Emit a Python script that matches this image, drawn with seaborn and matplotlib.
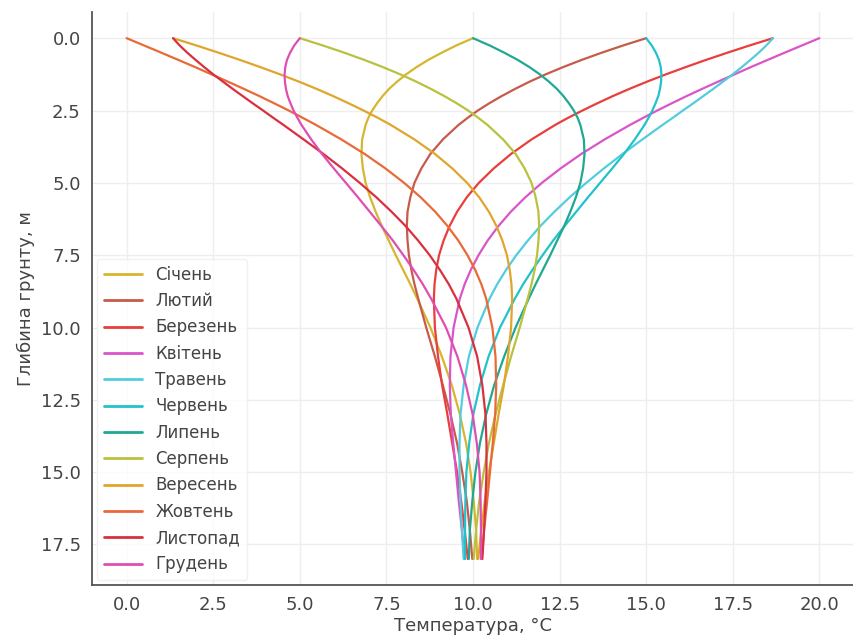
import matplotlib
matplotlib.use("Agg")
import matplotlib.pyplot as plt
import seaborn as sns
import pandas as pd

# Soil depth levels, m
depths = [0, 0.25, 0.5, 0.75, 1, 1.25, 1.5, 1.75, 2, 2.25, 2.5, 2.75, 3,
          3.5, 4, 4.5, 5, 5.5, 6, 6.5, 7, 7.5, 8, 8.5, 9,
          10, 11, 12, 13, 14, 15, 16, 17, 18]

months = ["Січень", "Лютий", "Березень", "Квітень", "Травень", "Червень",
          "Липень", "Серпень", "Вересень", "Жовтень", "Листопад", "Грудень"]

# Temperature profiles, °C (one value per depth level)
t_jan = [10.00, 9.52, 9.10, 8.71, 8.37, 8.07, 7.81, 7.58, 7.39, 7.23, 7.09, 6.98, 6.90,
         6.80, 6.78, 6.82, 6.90, 7.03, 7.19, 7.37, 7.57, 7.77, 7.98, 8.19, 8.39,
         8.77, 9.10, 9.39, 9.62, 9.80, 9.93, 10.02, 10.09, 10.12]
t_feb = [15.00, 14.34, 13.72, 13.14, 12.60, 12.10, 11.64, 11.22, 10.83, 10.47, 10.14, 9.85, 9.58,
         9.13, 8.77, 8.51, 8.31, 8.19, 8.11, 8.09, 8.11, 8.15, 8.22, 8.31, 8.42,
         8.65, 8.90, 9.13, 9.35, 9.54, 9.69, 9.82, 9.91, 9.98]
t_mar = [18.66, 17.99, 17.35, 16.73, 16.14, 15.57, 15.03, 14.52, 14.04, 13.59, 13.16, 12.75, 12.37,
         11.69, 11.10, 10.60, 10.17, 9.82, 9.54, 9.32, 9.15, 9.02, 8.94, 8.89, 8.87,
         8.90, 8.99, 9.11, 9.26, 9.40, 9.54, 9.66, 9.76, 9.85]
t_apr = [20.00, 19.50, 19.00, 18.51, 18.02, 17.55, 17.08, 16.62, 16.17, 15.74, 15.32, 14.92, 14.53,
         13.80, 13.13, 12.53, 11.99, 11.51, 11.09, 10.73, 10.42, 10.16, 9.94, 9.76, 9.62,
         9.44, 9.35, 9.33, 9.36, 9.43, 9.51, 9.59, 9.68, 9.76]
t_may = [18.66, 18.47, 18.25, 18.01, 17.76, 17.50, 17.22, 16.94, 16.65, 16.36, 16.06, 15.77, 15.47,
         14.89, 14.32, 13.78, 13.27, 12.79, 12.35, 11.94, 11.58, 11.25, 10.96, 10.70, 10.48,
         10.13, 9.88, 9.73, 9.64, 9.61, 9.61, 9.64, 9.68, 9.73]
t_jun = [15.00, 15.16, 15.28, 15.37, 15.42, 15.44, 15.43, 15.40, 15.35, 15.27, 15.18, 15.07, 14.95,
         14.67, 14.36, 14.02, 13.67, 13.32, 12.98, 12.64, 12.31, 12.01, 11.72, 11.45, 11.21,
         10.78, 10.45, 10.20, 10.01, 9.89, 9.81, 9.78, 9.77, 9.77]
t_jul = [10.00, 10.48, 10.90, 11.29, 11.63, 11.93, 12.19, 12.42, 12.61, 12.77, 12.91, 13.02, 13.10,
         13.20, 13.22, 13.18, 13.10, 12.97, 12.81, 12.63, 12.43, 12.23, 12.02, 11.81, 11.61,
         11.23, 10.90, 10.61, 10.38, 10.20, 10.07, 9.98, 9.91, 9.88]
t_aug = [5.00, 5.66, 6.28, 6.86, 7.40, 7.90, 8.36, 8.78, 9.17, 9.53, 9.86, 10.15, 10.42,
         10.87, 11.23, 11.49, 11.69, 11.81, 11.89, 11.91, 11.89, 11.85, 11.78, 11.69, 11.58,
         11.35, 11.10, 10.87, 10.65, 10.46, 10.31, 10.18, 10.09, 10.02]
t_sep = [1.34, 2.01, 2.65, 3.27, 3.86, 4.43, 4.97, 5.48, 5.96, 6.41, 6.84, 7.25, 7.63,
         8.31, 8.90, 9.40, 9.83, 10.18, 10.46, 10.68, 10.85, 10.98, 11.06, 11.11, 11.13,
         11.10, 11.01, 10.89, 10.74, 10.60, 10.46, 10.34, 10.24, 10.15]
t_oct = [0.00, 0.50, 1.00, 1.49, 1.98, 2.45, 2.92, 3.38, 3.83, 4.26, 4.68, 5.08, 5.47,
         6.20, 6.87, 7.47, 8.01, 8.49, 8.91, 9.27, 9.58, 9.84, 10.06, 10.24, 10.38,
         10.56, 10.65, 10.67, 10.64, 10.57, 10.49, 10.41, 10.32, 10.25]
t_nov = [1.34, 1.53, 1.75, 1.99, 2.24, 2.50, 2.78, 3.06, 3.35, 3.64, 3.94, 4.23, 4.53,
         5.11, 5.68, 6.22, 6.73, 7.21, 7.65, 8.06, 8.42, 8.75, 9.04, 9.30, 9.52,
         9.87, 10.12, 10.27, 10.36, 10.39, 10.39, 10.36, 10.32, 10.27]
t_dec = [5.00, 4.84, 4.72, 4.63, 4.58, 4.56, 4.57, 4.60, 4.65, 4.73, 4.82, 4.93, 5.05,
         5.33, 5.64, 5.98, 6.33, 6.68, 7.02, 7.36, 7.69, 7.99, 8.28, 8.55, 8.79,
         9.22, 9.55, 9.80, 9.99, 10.11, 10.19, 10.22, 10.23, 10.23]

profiles = [t_jan, t_feb, t_mar, t_apr, t_may, t_jun,
            t_jul, t_aug, t_sep, t_oct, t_nov, t_dec]

colors = ["#d6b62e", "#c85a4a", "#e83e3c", "#d955c8", "#52cde0", "#22c2cc",
          "#1fa892", "#b9c13e", "#e0a52c", "#e86a38", "#d8303f", "#e04eb2"]

rows = []
for name, temps in zip(months, profiles):
    assert len(temps) == len(depths)
    for z, t in zip(depths, temps):
        rows.append({"Місяць": name, "Глибина": z, "Температура": t})
df = pd.DataFrame(rows)

sns.set_theme(style="white")
plt.rcParams["font.family"] = ["DejaVu Sans"]

fig = plt.figure(figsize=(8.54, 6.39), dpi=100)
ax = fig.add_axes([0.1077, 0.0845, 0.8923, 0.8965])

sns.lineplot(data=df, x="Температура", y="Глибина", hue="Місяць",
             hue_order=months, palette=colors, sort=False, estimator=None,
             linewidth=1.6, ax=ax)

ax.set_xlim(-1, 21)
ax.set_ylim(18.9, -0.9)
ax.set_xticks([0, 2.5, 5, 7.5, 10, 12.5, 15, 17.5, 20])
ax.set_yticks([0, 2.5, 5, 7.5, 10, 12.5, 15, 17.5])
ax.grid(True, color="#eeeeee", linewidth=1.0)
ax.set_axisbelow(True)

for side in ["top", "right"]:
    ax.spines[side].set_visible(False)
for side in ["left", "bottom"]:
    ax.spines[side].set_color("#555555")
    ax.spines[side].set_linewidth(1.3)

ax.tick_params(direction="in", length=4, width=1, colors="#555555",
               labelsize=13, labelcolor="#444444", pad=8)
ax.set_xlabel("Температура, °C", fontsize=13, color="#444444", labelpad=2)
ax.set_ylabel("Глибина грунту, м", fontsize=13, color="#444444", labelpad=4)

leg = ax.legend(loc="lower left", fontsize=12, frameon=True, handlelength=2.3,
                labelspacing=0.5, borderaxespad=0.3)
leg.get_frame().set_facecolor("white")
leg.get_frame().set_edgecolor("#eeeeee")
for txt in leg.get_texts():
    txt.set_color("#444444")
for line in leg.get_lines():
    line.set_linewidth(2.0)

fig.savefig("out.png", dpi=100)
